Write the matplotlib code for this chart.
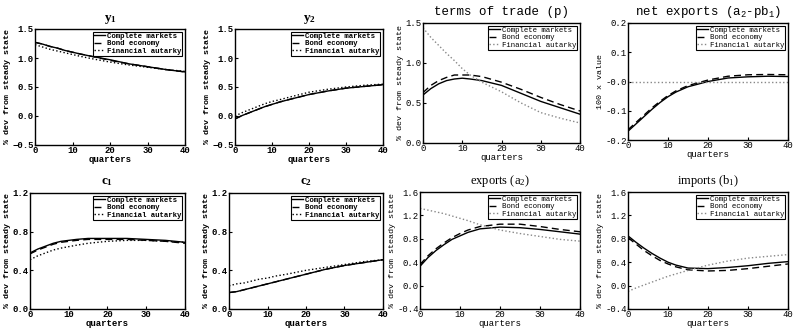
import matplotlib
matplotlib.use('Agg')
import matplotlib.pyplot as plt

q = [0, 2, 4, 6, 8, 10, 12, 15, 20, 25, 30, 35, 40]

y1_cm = [1.27, 1.24, 1.20, 1.17, 1.13, 1.10, 1.07, 1.03, 0.97, 0.90, 0.85, 0.80, 0.76]
y1_be = [1.27, 1.24, 1.20, 1.17, 1.13, 1.10, 1.07, 1.03, 0.96, 0.90, 0.85, 0.80, 0.76]
y1_fa = [1.23, 1.19, 1.15, 1.12, 1.09, 1.06, 1.03, 0.99, 0.93, 0.88, 0.84, 0.80, 0.77]

y2_cm = [-0.05, 0.01, 0.06, 0.11, 0.16, 0.20, 0.24, 0.29, 0.37, 0.43, 0.48, 0.51, 0.54]
y2_be = [-0.05, 0.01, 0.06, 0.11, 0.16, 0.20, 0.24, 0.29, 0.37, 0.43, 0.48, 0.51, 0.54]
y2_fa = [0.00, 0.06, 0.11, 0.16, 0.21, 0.25, 0.28, 0.33, 0.41, 0.46, 0.50, 0.53, 0.55]

tot_cm = [0.60, 0.68, 0.74, 0.78, 0.80, 0.81, 0.80, 0.78, 0.72, 0.62, 0.52, 0.44, 0.36]
tot_be = [0.63, 0.72, 0.78, 0.82, 0.85, 0.85, 0.85, 0.83, 0.76, 0.67, 0.57, 0.48, 0.40]
tot_fa = [1.44, 1.32, 1.22, 1.12, 1.03, 0.93, 0.85, 0.76, 0.64, 0.50, 0.38, 0.31, 0.25]

nx_cm = [-0.17, -0.145, -0.12, -0.095, -0.072, -0.052, -0.036, -0.018, 0.0, 0.012, 0.016, 0.018, 0.017]
nx_be = [-0.165, -0.14, -0.115, -0.09, -0.068, -0.048, -0.032, -0.014, 0.005, 0.018, 0.023, 0.024, 0.023]
nx_fa = [0.0] * 13

c1_cm = [0.58, 0.62, 0.65, 0.68, 0.70, 0.71, 0.72, 0.73, 0.73, 0.73, 0.72, 0.71, 0.69]
c1_be = [0.57, 0.61, 0.64, 0.67, 0.69, 0.70, 0.71, 0.72, 0.72, 0.72, 0.71, 0.70, 0.68]
c1_fa = [0.51, 0.55, 0.58, 0.61, 0.63, 0.645, 0.66, 0.68, 0.70, 0.71, 0.71, 0.70, 0.69]

c2_cm = [0.17, 0.18, 0.20, 0.22, 0.24, 0.26, 0.28, 0.31, 0.36, 0.41, 0.45, 0.48, 0.51]
c2_be = [0.17, 0.18, 0.20, 0.22, 0.24, 0.26, 0.28, 0.31, 0.36, 0.41, 0.45, 0.48, 0.51]
c2_fa = [0.24, 0.26, 0.27, 0.29, 0.31, 0.32, 0.34, 0.36, 0.40, 0.43, 0.46, 0.49, 0.51]

ex_cm = [0.33, 0.48, 0.60, 0.70, 0.79, 0.85, 0.91, 0.97, 1.00, 0.99, 0.96, 0.92, 0.88]
ex_be = [0.36, 0.51, 0.63, 0.73, 0.82, 0.89, 0.95, 1.01, 1.05, 1.05, 1.01, 0.96, 0.92]
ex_fa = [1.32, 1.29, 1.26, 1.23, 1.19, 1.15, 1.11, 1.04, 0.95, 0.89, 0.84, 0.79, 0.76]

im_cm = [0.85, 0.74, 0.64, 0.55, 0.47, 0.40, 0.35, 0.30, 0.29, 0.31, 0.34, 0.38, 0.41]
im_be = [0.82, 0.71, 0.60, 0.51, 0.43, 0.37, 0.32, 0.27, 0.25, 0.26, 0.29, 0.33, 0.37]
im_fa = [-0.10, -0.04, 0.01, 0.06, 0.11, 0.16, 0.20, 0.26, 0.35, 0.42, 0.47, 0.50, 0.53]

labels = ['Complete markets', 'Bond economy', 'Financial autarky']

W, H = 793, 329
fig = plt.figure(figsize=(W / 100, H / 100), dpi=100)


def box(x0, x1, y0, y1):
    return [x0 / W, 1 - y1 / H, (x1 - x0) / W, (y1 - y0) / H]


def panel(rect, cm, be, fa, title, ylim, yticks, yticklabels, ylabel, left_style):
    ax = fig.add_axes(rect)
    fam = 'Liberation Mono'
    if left_style:
        wt = 'bold'
        fa_color = 'black'
        tsize = 9.5
    else:
        wt = 'normal'
        fa_color = '#888888'
        tsize = 9
    ax.plot(q, cm, '-', color='black', lw=1.0, label=labels[0])
    ax.plot(q, be, '--', color='black', lw=1.0, dashes=(5, 3), label=labels[1])
    ax.plot(q, fa, ':', color=fa_color, lw=1.0, label=labels[2])
    ax.set_xlim(0, 40)
    ax.set_ylim(*ylim)
    ax.set_xticks([0, 10, 20, 30, 40])
    ax.set_yticks(yticks)
    ax.set_yticklabels(yticklabels)
    ax.tick_params(direction='in', length=2, labelsize=6.5, pad=1)
    for lab in ax.get_xticklabels() + ax.get_yticklabels():
        lab.set_family(fam)
        lab.set_weight(wt)
    ax.set_xlabel('quarters', family=fam, weight=wt, fontsize=6.5, labelpad=0)
    ax.set_ylabel(ylabel, family=fam, weight=wt, fontsize=6, labelpad=1)
    ax.set_title(title[0], family=title[1], weight=wt, fontsize=tsize, pad=6)
    for s in ax.spines.values():
        s.set_linewidth(1.0)
    leg = ax.legend(loc='upper right', handlelength=1.5,
                    handletextpad=0.3, borderpad=0.15, labelspacing=0.05,
                    borderaxespad=0.35, fancybox=False, framealpha=1,
                    prop={'family': fam, 'weight': wt, 'size': 5.3})
    leg.get_frame().set_edgecolor('black')
    leg.get_frame().set_linewidth(0.8)
    return ax


dev = '% dev from steady state'

panel(box(35, 185, 29, 145), y1_cm, y1_be, y1_fa,
      ('$\\mathregular{y_1}$', 'Liberation Serif'), (-0.5, 1.5),
      [-0.5, 0.0, 0.5, 1.0, 1.5], ['\u22120.5', '0.0', '0.5', '1.0', '1.5'], dev, True)
panel(box(235, 383, 29, 145), y2_cm, y2_be, y2_fa,
      ('$\\mathregular{y_2}$', 'Liberation Serif'), (-0.5, 1.5),
      [-0.5, 0.0, 0.5, 1.0, 1.5], ['\u22120.5', '0.0', '0.5', '1.0', '1.5'], dev, True)
panel(box(423, 580, 23, 143), tot_cm, tot_be, tot_fa,
      ('terms of trade (p)', 'Liberation Mono'), (0.0, 1.5),
      [0.0, 0.5, 1.0, 1.5], ['0.0', '0.5', '1.0', '1.5'], dev, False)
panel(box(628, 788, 23, 140), nx_cm, nx_be, nx_fa,
      ('net exports ($\\mathregular{a_2}$-p$\\mathregular{b_1}$)', 'Liberation Mono'), (-0.2, 0.2),
      [-0.2, -0.1, 0.0, 0.1, 0.2], ['-0.2', '-0.1', '-0.0', '0.1', '0.2'], '100 x value', False)
panel(box(30, 185, 193, 309), c1_cm, c1_be, c1_fa,
      ('$\\mathregular{c_1}$', 'Liberation Serif'), (0.0, 1.2),
      [0.0, 0.4, 0.8, 1.2], ['0.0', '0.4', '0.8', '1.2'], dev, True)
panel(box(229, 383, 193, 309), c2_cm, c2_be, c2_fa,
      ('$\\mathregular{c_2}$', 'Liberation Serif'), (0.0, 1.2),
      [0.0, 0.4, 0.8, 1.2], ['0.0', '0.4', '0.8', '1.2'], dev, True)
panel(box(420, 580, 192, 309), ex_cm, ex_be, ex_fa,
      ('exports ($\\mathregular{a_2}$)', 'Liberation Serif'), (-0.4, 1.6),
      [-0.4, 0.0, 0.4, 0.8, 1.2, 1.6], ['-0.4', '0.0', '0.4', '0.8', '1.2', '1.6'], dev, False)
panel(box(628, 788, 192, 309), im_cm, im_be, im_fa,
      ('imports ($\\mathregular{b_1}$)', 'Liberation Serif'), (-0.4, 1.6),
      [-0.4, 0.0, 0.4, 0.8, 1.2, 1.6], ['-0.4', '0.0', '0.4', '0.8', '1.2', '1.6'], dev, False)

fig.savefig('out.png', dpi=100)
